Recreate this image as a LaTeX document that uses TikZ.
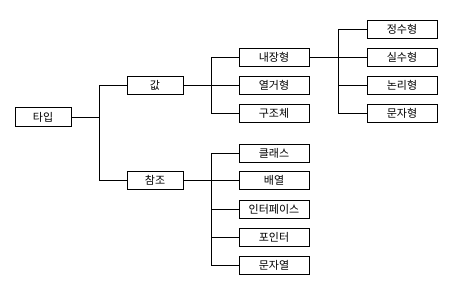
\documentclass[tikz,border=0pt]{standalone}
\usepackage{fontspec}
\setmainfont{Noto Sans CJK KR}
\begin{document}
\begin{tikzpicture}[
    x=1pt, y=-1pt,
    box/.style={
        draw,
        line width=0.8pt,
        minimum width=56pt,
        minimum height=18pt,
        inner sep=0pt,
        font=\fontsize{11}{12}\selectfont
    },
    wide/.style={box, minimum width=70pt},
    link/.style={line width=0.8pt}
]
    \useasboundingbox (0,0) rectangle (467,284);

    \node[box, minimum height=19pt] (tp) at (43,117) {타입};
    \node[box] (val) at (155,85) {값};
    \node[box] (ref) at (155,180.5) {참조};

    \node[wide] (builtin) at (274,57) {내장형};
    \node[wide] (enum) at (274,85) {열거형};
    \node[wide] (struct) at (274,113) {구조체};

    \node[wide] (int) at (402,29) {정수형};
    \node[wide] (real) at (402,57) {실수형};
    \node[wide] (bool) at (402,85) {논리형};
    \node[wide] (char) at (402,113) {문자형};

    \node[wide] (class) at (274,153) {클래스};
    \node[wide] (arr) at (274,180.5) {배열};
    \node[wide] (iface) at (274,209) {인터페이스};
    \node[wide] (ptr) at (274,237) {포인터};
    \node[wide] (str) at (274,265) {문자열};

    % junction points
    \coordinate (j1) at (99,117);
    \coordinate (j2) at (211,85);
    \coordinate (j3) at (338,57);
    \coordinate (j4) at (211,180.5);

    \draw[link] (tp.east) -- (j1);
    \foreach \n in {val,ref}
        \draw[link] (j1) |- (\n.west);

    \draw[link] (val.east) -- (j2);
    \foreach \n in {builtin,enum,struct}
        \draw[link] (j2) |- (\n.west);

    \draw[link] (builtin.east) -- (j3);
    \foreach \n in {int,real,bool,char}
        \draw[link] (j3) |- (\n.west);

    \draw[link] (ref.east) -- (j4);
    \foreach \n in {class,arr,iface,ptr,str}
        \draw[link] (j4) |- (\n.west);
\end{tikzpicture}
\end{document}
